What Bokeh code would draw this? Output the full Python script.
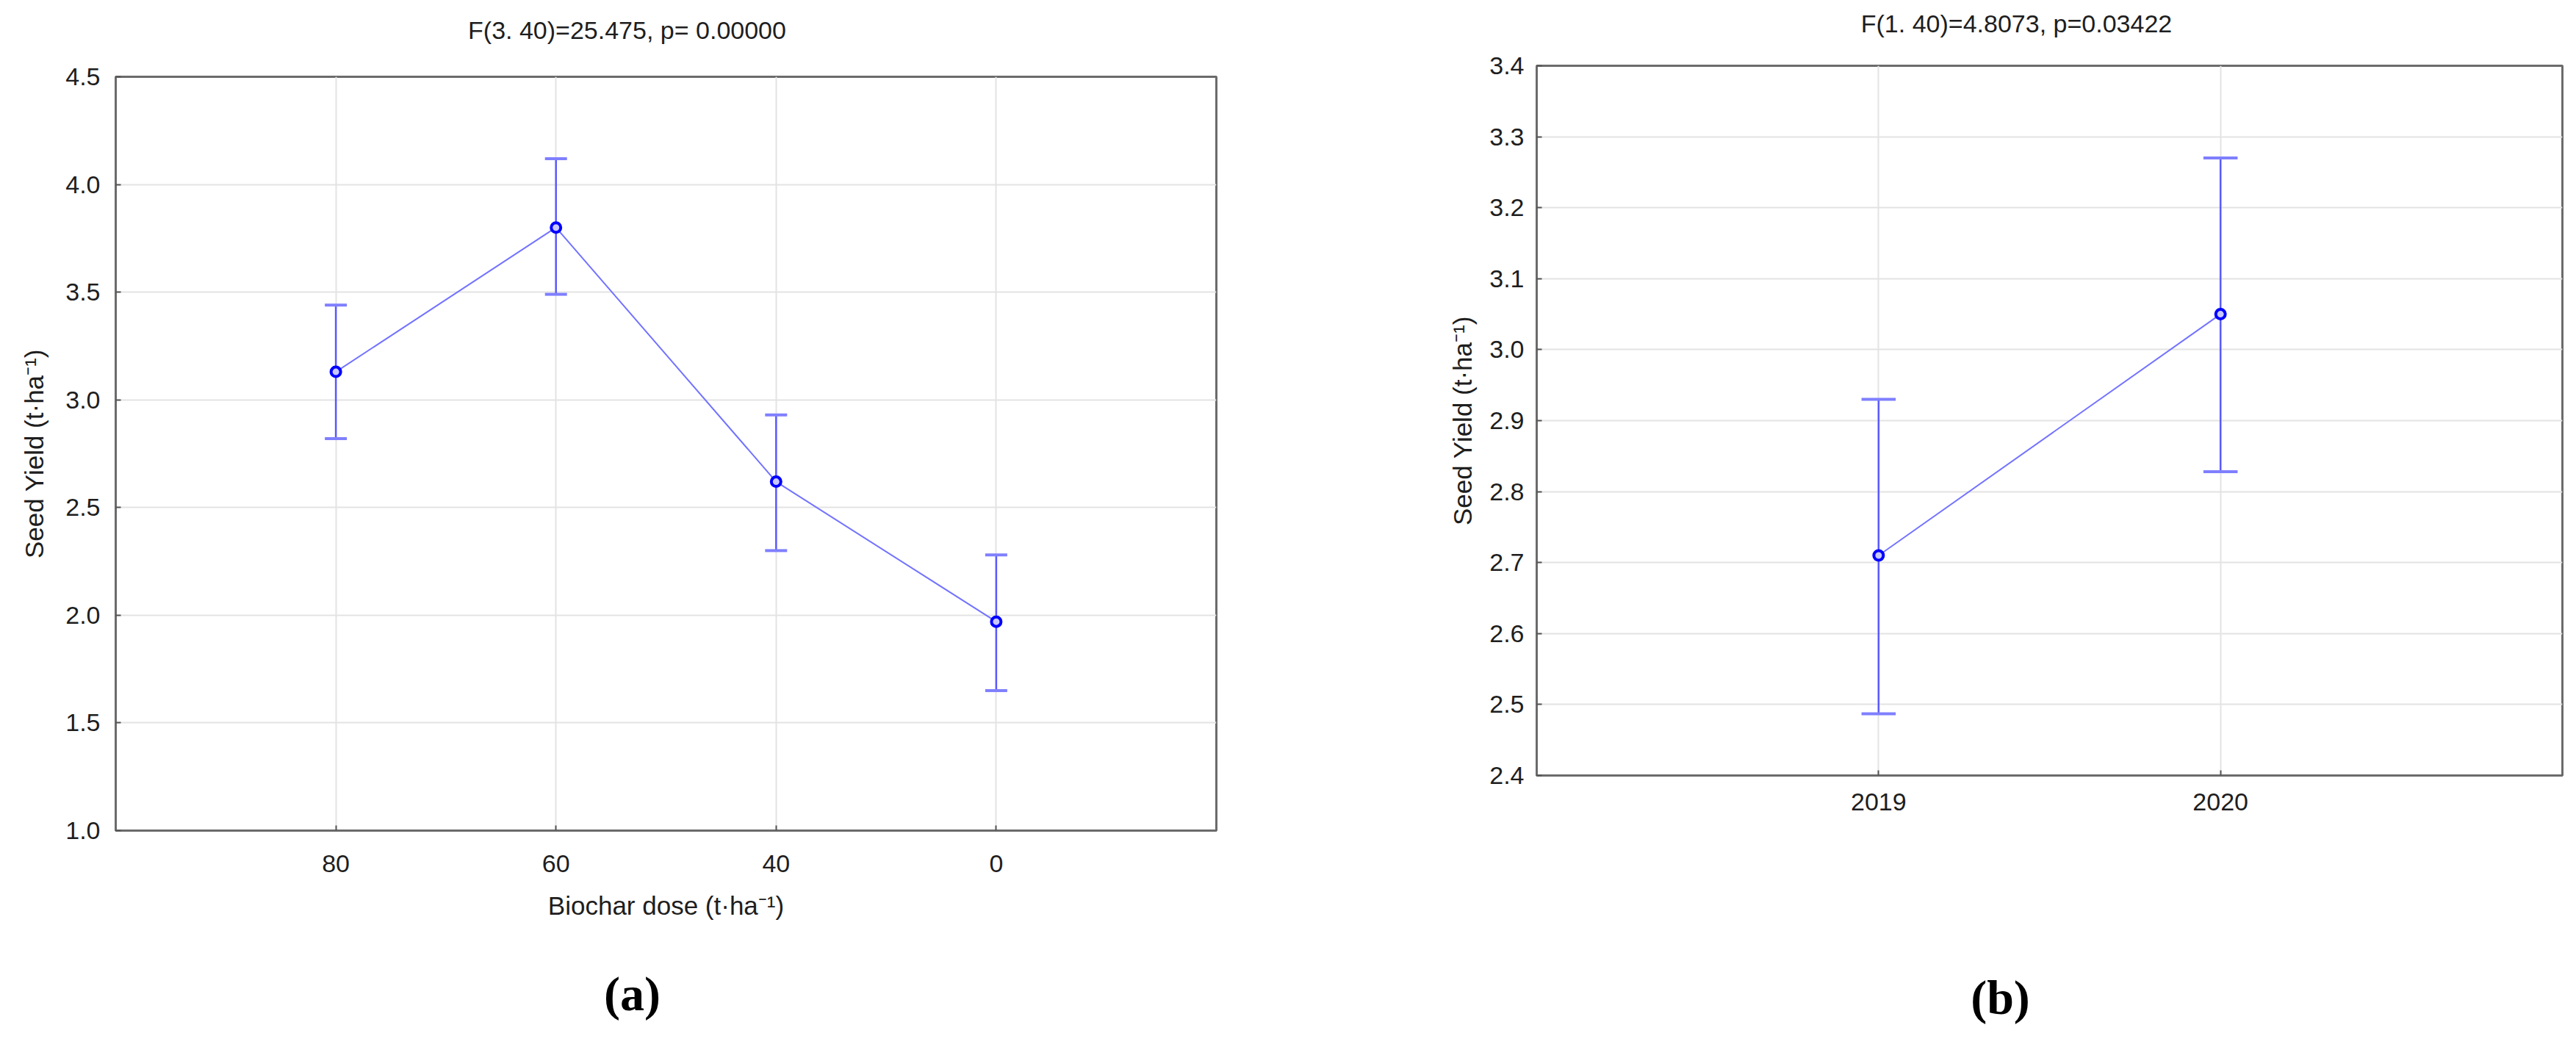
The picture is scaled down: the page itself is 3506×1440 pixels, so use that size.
from bokeh.plotting import figure
from bokeh.layouts import row, column
from bokeh.models import Range1d, FixedTicker, NumeralTickFormatter
from bokeh.core.properties import value
from bokeh.embed import file_html
from bokeh.resources import INLINE

# ---------------- data: panel (a) ----------------
dose_labels = ["80", "60", "40", "0"]
yield_mean_a = [3.13, 3.80, 2.62, 1.97]
yield_low_a = [2.82, 3.49, 2.30, 1.65]
yield_high_a = [3.44, 4.12, 2.93, 2.28]
yticks_a = [1.0, 1.5, 2.0, 2.5, 3.0, 3.5, 4.0, 4.5]
title_a = "F(3. 40)=25.475, p= 0.00000"
xlabel_a = "Biochar dose (t\u00b7ha\u207b\u00b9)"
ylabel_a = "Seed Yield (t\u00b7ha\u207b\u00b9)"
caption_a = "(a)"

# ---------------- data: panel (b) ----------------
year_labels = ["2019", "2020"]
yield_mean_b = [2.71, 3.05]
yield_low_b = [2.487, 2.828]
yield_high_b = [2.930, 3.270]
yticks_b = [2.4, 2.5, 2.6, 2.7, 2.8, 2.9, 3.0, 3.1, 3.2, 3.3, 3.4]
title_b = "F(1. 40)=4.8073, p=0.03422"
xlabel_b = ""
ylabel_b = "Seed Yield (t\u00b7ha\u207b\u00b9)"
caption_b = "(b)"

FONT = "Liberation Sans"
TXT = "#1e1e1e"
AXC = "#6b6b6b"


def text_strip(width, height, cx, cy, text, font, size, style, color):
    """A borderless strip that only carries one line of text."""
    t = figure(width=width, height=height, x_range=Range1d(0, width),
               y_range=Range1d(height, 0), x_axis_type=None, y_axis_type=None,
               output_backend="svg", toolbar_location=None,
               min_border=0, outline_line_color=None,
               background_fill_color="white", border_fill_color="white",
               frame_align=False)
    t.text(x=[cx], y=[cy], text=[text], text_align="center", text_baseline="middle",
           text_font=value(font), text_font_size=size, text_font_style=style,
           text_color=color)
    return t


def make_panel(labels, mean, low, high, yticks, xlabel, ylabel,
               width, height, mbl, mbr, mbt, mbb,
               ylab_stand, xlab_stand, ytick_stand, xtick_stand):
    n = len(labels)
    xs = list(range(1, n + 1))
    p = figure(width=width, height=height,
               x_range=Range1d(0, n + 1), y_range=Range1d(yticks[0], yticks[-1]),
               output_backend="svg", toolbar_location=None,
               min_border_left=mbl, min_border_right=mbr,
               min_border_top=mbt, min_border_bottom=mbb,
               background_fill_color="white", border_fill_color="white",
               frame_align=False)
    p.outline_line_color = AXC
    p.outline_line_width = 3
    p.outline_line_alpha = 1.0

    p.xaxis.ticker = FixedTicker(ticks=xs)
    p.xaxis.major_label_overrides = {x: lab for x, lab in zip(xs, labels)}
    p.yaxis.ticker = FixedTicker(ticks=yticks)
    p.yaxis.formatter = NumeralTickFormatter(format="0.0")
    p.xgrid.ticker = FixedTicker(ticks=xs)
    p.ygrid.ticker = FixedTicker(ticks=yticks)
    for g in (p.xgrid, p.ygrid):
        g.grid_line_color = "#e3e3e3"
        g.grid_line_width = 2

    for ax in (p.xaxis, p.yaxis):
        ax.axis_line_color = AXC
        ax.axis_line_width = 3
        ax.major_tick_in = 7
        ax.major_tick_out = 0
        ax.major_tick_line_color = "#555555"
        ax.major_tick_line_width = 2
        ax.minor_tick_line_color = None
        ax.major_label_text_font = FONT
        ax.major_label_text_font_size = "34px"
        ax.major_label_text_color = TXT
        ax.axis_label_text_font = FONT
        ax.axis_label_text_font_size = "35px"
        ax.axis_label_text_font_style = "normal"
        ax.axis_label_text_color = TXT
    p.yaxis.axis_label = ylabel
    p.yaxis.axis_label_standoff = ylab_stand
    p.yaxis.major_label_standoff = ytick_stand
    p.xaxis.major_label_standoff = xtick_stand
    if xlabel:
        p.xaxis.axis_label = xlabel
        p.xaxis.axis_label_standoff = xlab_stand

    # connecting line
    p.line(xs, mean, line_color="#7373ff", line_width=2)
    # error bars
    p.segment(x0=xs, y0=low, x1=xs, y1=high, line_color="#5a5aff", line_width=2.5)
    cap = 0.05
    p.segment(x0=[x - cap for x in xs], y0=high, x1=[x + cap for x in xs], y1=high,
              line_color="#7f7fff", line_width=4)
    p.segment(x0=[x - cap for x in xs], y0=low, x1=[x + cap for x in xs], y1=low,
              line_color="#7f7fff", line_width=4)
    # means
    p.scatter(xs, mean, size=13, marker="circle", line_color="#0000ff",
              line_width=4, fill_color="#c8c8ff")
    return p


TOP_H = 70      # height of the title strips
MID_H = 1230    # height of the chart figures
CAP_H = 130     # height of the caption strips
WA, WB = 1800, 1690

# panel (a): frame 157..1655 x 104..1130 (page coords)
ta = text_strip(WA, TOP_H, 853, 40, title_a, FONT, "34px", "normal", TXT)
pa = make_panel(dose_labels, yield_mean_a, yield_low_a, yield_high_a, yticks_a,
                xlabel_a, ylabel_a,
                width=WA, height=MID_H, mbl=157, mbr=WA - 1655,
                mbt=104 - TOP_H, mbb=TOP_H + MID_H - 1130,
                ylab_stand=20, xlab_stand=23, ytick_stand=21, xtick_stand=33)
ca = text_strip(WA, CAP_H, 860, 1352 - TOP_H - MID_H, caption_a,
                "Liberation Serif", "66px", "bold", "#000000")

# panel (b): frame 2091..3487 x 89..1055 (page coords)
tb = text_strip(WB, TOP_H, 2744 - WA, 31, title_b, FONT, "34px", "normal", TXT)
pb = make_panel(year_labels, yield_mean_b, yield_low_b, yield_high_b, yticks_b,
                xlabel_b, ylabel_b,
                width=WB, height=MID_H, mbl=2091 - WA, mbr=WA + WB - 3487,
                mbt=89 - TOP_H, mbb=TOP_H + MID_H - 1055,
                ylab_stand=14, xlab_stand=28, ytick_stand=17, xtick_stand=24)
cb = text_strip(WB, CAP_H, 2722 - WA, 1357 - TOP_H - MID_H, caption_b,
                "Liberation Serif", "66px", "bold", "#000000")

layout = row(column(ta, pa, ca), column(tb, pb, cb))
open("out.html", "w").write(file_html(layout, INLINE))
